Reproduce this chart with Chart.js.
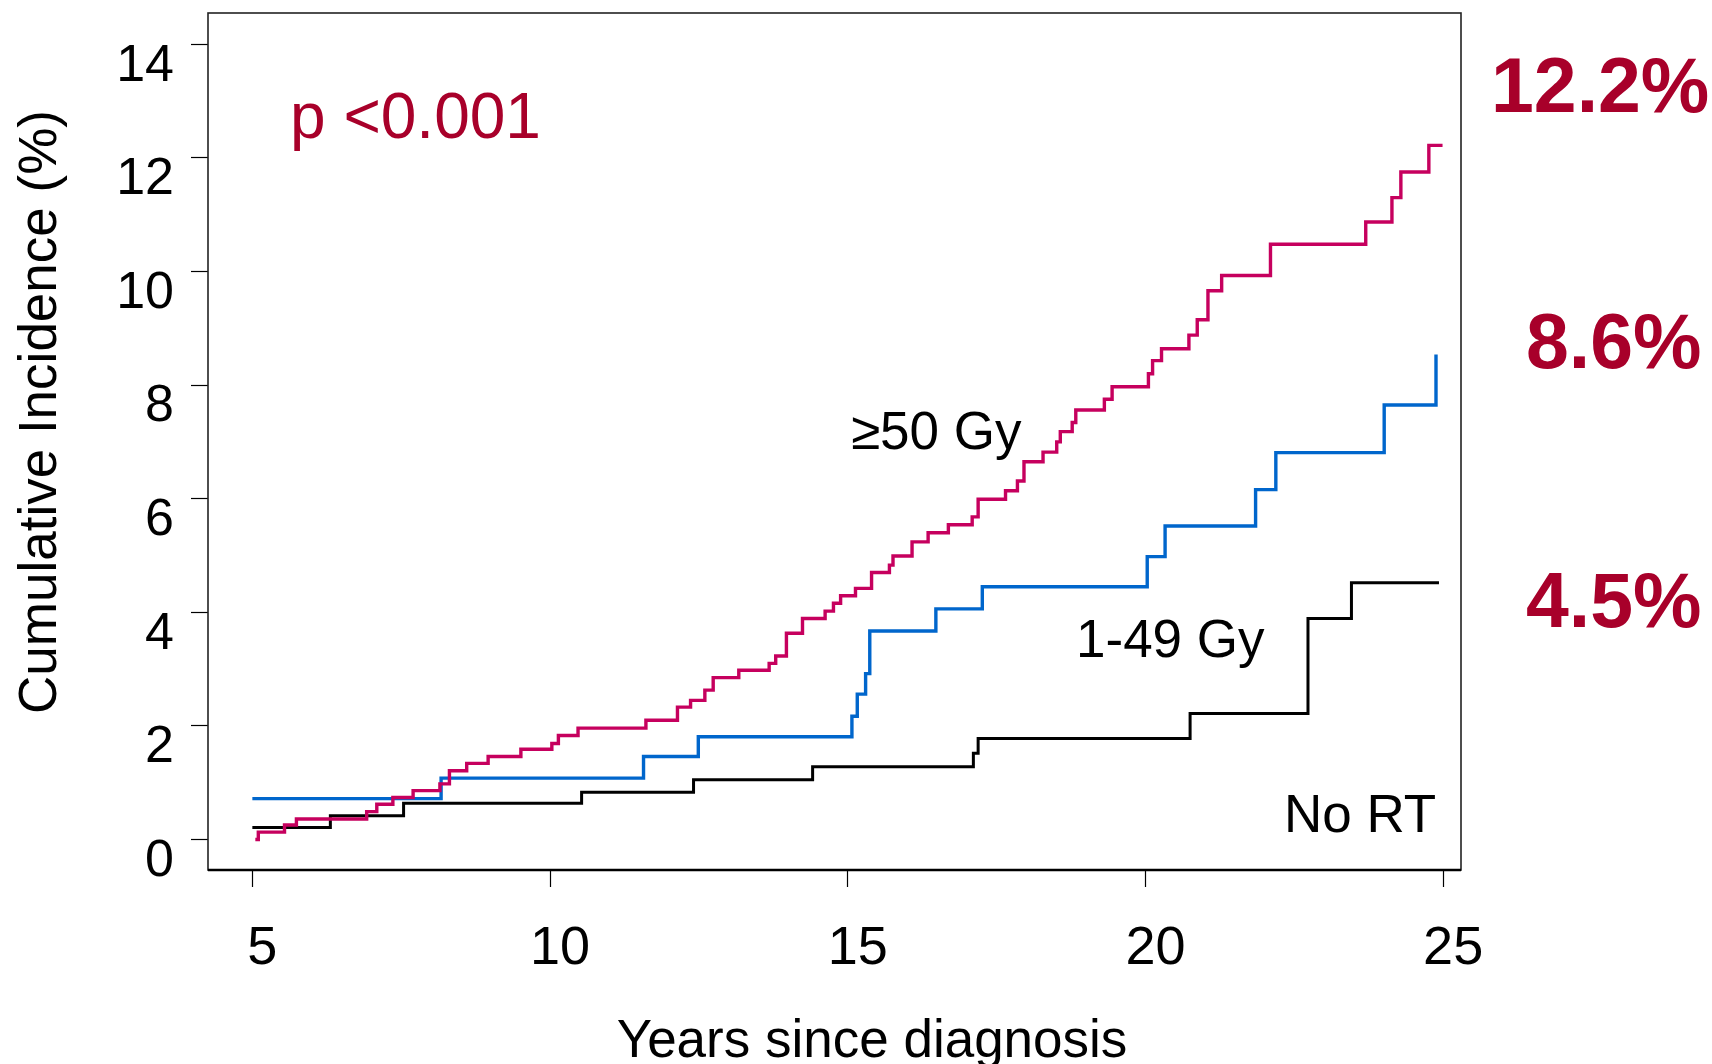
<!DOCTYPE html>
<html><head><meta charset="utf-8">
<script src="https://cdn.jsdelivr.net/npm/chart.js@4.4.1/dist/chart.umd.min.js"></script>
<style>html,body{margin:0;padding:0;background:#fff;overflow:hidden}canvas{display:block}</style>
</head><body>
<canvas id="c" width="1712" height="1064"></canvas>
<script>
// ---- data ----
const xTicks = [5, 10, 15, 20, 25];
const yTicks = [0, 2, 4, 6, 8, 10, 12, 14];

const seriesNames = ['≥50 Gy', '1-49 Gy', 'No RT'];
const endLabels = ['12.2%', '8.6%', '4.5%'];
const pValueText = 'p <0.001';
const xTitle = 'Years since diagnosis';
const yTitle = 'Cumulative Incidence (%)';

// ≥50 Gy
const highTimes = [5.05, 5.10, 5.54, 5.74, 6.92, 7.09, 7.36, 7.70, 8.15, 8.31, 8.60, 8.96, 9.51, 10.03, 10.14, 10.47, 11.61, 12.14, 12.36, 12.60, 12.74, 13.17, 13.68, 13.79, 13.97, 14.24, 14.62, 14.76, 14.88, 15.13, 15.40, 15.70, 15.76, 16.08, 16.35, 16.69, 17.09, 17.19, 17.65, 17.85, 17.96, 18.28, 18.51, 18.57, 18.77, 18.83, 19.31, 19.44, 20.05, 20.12, 20.27, 20.73, 20.87, 21.05, 21.28, 22.10, 23.70, 24.14, 24.29, 24.76, 24.99];
const highValues = [0.00, 0.13, 0.255, 0.36, 0.49, 0.62, 0.74, 0.86, 0.98, 1.21, 1.34, 1.46, 1.59, 1.69, 1.83, 1.96, 2.10, 2.33, 2.45, 2.63, 2.85, 2.98, 3.10, 3.23, 3.63, 3.89, 4.02, 4.16, 4.29, 4.42, 4.70, 4.83, 4.99, 5.24, 5.40, 5.54, 5.68, 5.99, 6.14, 6.31, 6.65, 6.82, 7.00, 7.18, 7.34, 7.56, 7.75, 7.97, 8.20, 8.43, 8.64, 8.88, 9.15, 9.66, 9.93, 10.48, 10.87, 11.30, 11.75, 12.22, 12.22];

// 1-49 Gy
const midTimes = [5.00, 8.17, 11.57, 12.49, 15.07, 15.16, 15.30, 15.37, 16.48, 17.26, 20.03, 20.33, 21.85, 22.19, 24.01, 24.88];
const midValues = [0.72, 1.08, 1.46, 1.81, 2.17, 2.56, 2.92, 3.67, 4.06, 4.45, 4.98, 5.52, 6.16, 6.81, 7.65, 8.54];

// No RT
const noRtTimes = [5.00, 6.31, 7.54, 10.53, 12.41, 14.41, 17.11, 17.19, 20.75, 22.73, 23.46, 24.93];
const noRtValues = [0.21, 0.42, 0.64, 0.83, 1.05, 1.28, 1.52, 1.78, 2.22, 3.89, 4.52, 4.52];

// ---- styling ----
const FONT = "'Liberation Sans', Arial, Helvetica, sans-serif";
const CRIMSON = '#A8002A';
const toPts = (t, v) => t.map((x, i) => ({x: x, y: v[i]}));

const decorPlugin = {
  id: 'decor',
  beforeDatasetsDraw(chart) {
    const {ctx, chartArea: a} = chart;
    ctx.save();
    ctx.strokeStyle = '#222';
    ctx.lineWidth = 1.6;
    ctx.strokeRect(a.left, a.top, a.right - a.left, a.bottom - a.top);
    ctx.strokeStyle = '#000';
    ctx.lineWidth = 2.6;
    ctx.beginPath();
    ctx.moveTo(a.left, a.bottom);
    ctx.lineTo(a.right, a.bottom);
    ctx.stroke();
    ctx.restore();
  },
  afterDraw(chart) {
    const {ctx} = chart;
    ctx.save();
    ctx.textBaseline = 'alphabetic';
    // p-value
    ctx.fillStyle = CRIMSON;
    ctx.textAlign = 'left';
    ctx.font = `64px ${FONT}`;
    ctx.fillText(pValueText, 290, 138);
    // end percentages
    ctx.font = `bold 77px ${FONT}`;
    ctx.fillText(endLabels[0], 1491, 112);
    ctx.fillText(endLabels[1], 1526, 368);
    ctx.fillText(endLabels[2], 1526, 627);
    // series labels
    ctx.fillStyle = '#000';
    ctx.font = `53px ${FONT}`;
    ctx.fillText(seriesNames[0], 851, 449);
    ctx.fillText(seriesNames[1], 1076, 657);
    ctx.fillText(seriesNames[2], 1284, 832);
    // axis titles
    ctx.textAlign = 'center';
    ctx.fillText(xTitle, 872, 1057);
    ctx.translate(56, 412);
    ctx.rotate(-Math.PI / 2);
    ctx.fillText(yTitle, 0, 0);
    ctx.restore();
  }
};

new Chart(document.getElementById('c').getContext('2d'), {
  type: 'line',
  data: {
    datasets: [
      {label: seriesNames[0], data: toPts(highTimes, highValues), borderColor: '#C6005E', borderWidth: 3.4, stepped: true, pointRadius: 0, fill: false},
      {label: seriesNames[1], data: toPts(midTimes, midValues), borderColor: '#0066CC', borderWidth: 3.4, stepped: true, pointRadius: 0, fill: false},
      {label: seriesNames[2], data: toPts(noRtTimes, noRtValues), borderColor: '#000000', borderWidth: 3, stepped: true, pointRadius: 0, fill: false}
    ]
  },
  options: {
    responsive: false,
    animation: false,
    devicePixelRatio: 1,
    layout: {padding: {left: 0, top: 13, right: 251, bottom: 0}},
    plugins: {legend: {display: false}, tooltip: {enabled: false}},
    scales: {
      x: {
        type: 'linear', min: 4.255, max: 25.3,
        afterBuildTicks: s => { s.ticks = xTicks.map(v => ({value: v})); },
        afterFit: s => { s.height = 194; s.paddingLeft = 0; s.paddingRight = 0; },
        border: {display: false},
        grid: {drawOnChartArea: false, drawTicks: true, tickLength: 17, tickColor: '#000', tickWidth: 1.2},
        ticks: {font: {family: FONT, size: 54}, color: '#000', padding: 30, labelOffset: 10, maxRotation: 0, autoSkip: false}
      },
      y: {
        type: 'linear', min: -0.537, max: 14.55,
        afterBuildTicks: s => { s.ticks = yTicks.map(v => ({value: v})); },
        afterFit: s => { s.width = 208; s.paddingTop = 0; s.paddingBottom = 0; },
        border: {display: false},
        grid: {drawOnChartArea: false, drawTicks: true, tickLength: 17, tickColor: '#000', tickWidth: 1.2},
        ticks: {font: {family: FONT, size: 52}, color: '#000', padding: 17, labelOffset: 22, autoSkip: false}
      }
    }
  },
  plugins: [decorPlugin]
});
</script>
</body></html>
